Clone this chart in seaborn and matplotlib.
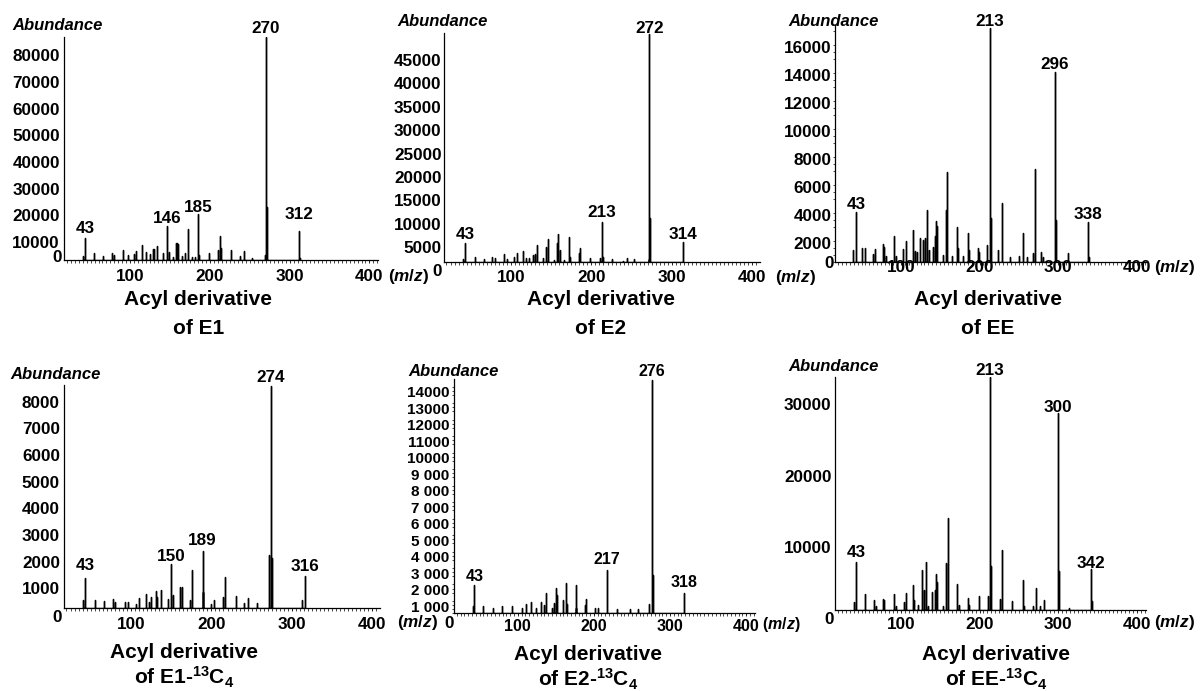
import numpy as np
import pandas as pd
import matplotlib
matplotlib.use("Agg")
import matplotlib.pyplot as plt
import matplotlib.transforms as mtransforms
from matplotlib.ticker import MultipleLocator
import seaborn as sns

sns.set_style("ticks")
plt.rcParams['font.family'] = ['Liberation Sans', 'DejaVu Sans']
plt.rcParams['mathtext.fontset'] = 'custom'
plt.rcParams['mathtext.rm'] = 'Liberation Sans:bold'
plt.rcParams['mathtext.it'] = 'Liberation Sans:italic:bold'
plt.rcParams['mathtext.bf'] = 'Liberation Sans:bold'
plt.rcParams['text.color'] = 'black'
plt.rcParams['axes.labelcolor'] = 'black'
plt.rcParams['xtick.color'] = 'black'
plt.rcParams['ytick.color'] = 'black'
plt.rcParams['axes.edgecolor'] = 'black'

# ---------------- data (m/z, abundance) ----------------
mz_e1 = [40, 43, 54, 66, 77, 80, 91, 97, 104, 107, 115, 120, 124, 128, 130, 133, 141, 146, 148, 153,
         157, 159, 160, 165, 169, 172, 177, 181, 185, 186, 199, 210, 213, 214, 226, 238, 242, 252,
         269, 270, 271, 272, 312, 313]
ab_e1 = [1500, 8100, 2500, 1600, 2700, 1900, 3700, 1900, 2200, 3400, 5600, 3100, 2200, 4000, 4000, 5200,
         2700, 12700, 3100, 1000, 6200, 6500, 6000, 1500, 2700, 11500, 1200, 1000, 17100, 1900, 2500,
         3700, 9100, 4400, 3700, 1500, 3400, 900, 1900, 83500, 20000, 1900, 10700, 900]
lab_e1 = [43, 146, 185, 270, 312]

mz_e2 = [41, 43, 55, 66, 77, 80, 91, 95, 104, 107, 115, 119, 122, 128, 130, 133, 140, 144, 146, 153,
         157, 159, 161, 166, 172, 173, 184, 186, 198, 211, 213, 215, 226, 239, 244, 253, 271, 272, 273, 314]
ab_e2 = [640, 4200, 1070, 640, 1070, 850, 1770, 640, 1070, 2070, 2350, 850, 850, 1500, 1770, 3700, 850,
         3350, 4900, 500, 4050, 6000, 2600, 500, 5500, 1070, 1900, 3000, 850, 850, 8600, 1070, 700, 360,
         920, 640, 640, 48800, 9400, 4270]
lab_e2 = [43, 213, 272, 314]

mz_ee = [39, 43, 51, 55, 65, 67, 77, 79, 81, 91, 94, 103, 107, 115, 118, 121, 124, 128, 131, 133, 136,
         141, 143, 145, 146, 153, 157, 158, 159, 165, 172, 173, 179, 185, 187, 198, 199, 210, 213, 214,
         224, 228, 239, 250, 255, 260, 268, 270, 271, 278, 281, 296, 297, 312, 338, 339]
ab_ee = [880, 3580, 1000, 1000, 590, 925, 1280, 1110, 450, 1875, 450, 925, 1540, 2300, 830, 760, 1710,
         1590, 1710, 3725, 880, 1110, 1875, 2970, 2585, 520, 2180, 3725, 6450, 450, 2490, 1000, 450, 2110,
         880, 1000, 760, 1230, 16660, 3130, 880, 4200, 350, 450, 2065, 350, 640, 6640, 1350, 760, 350,
         13570, 3010, 640, 2850, 400]
lab_ee = [43, 213, 296, 338]

mz_e1c = [40, 43, 55, 67, 78, 80, 93, 97, 106, 110, 119, 122, 125, 131, 133, 137, 146, 150, 152, 161,
          163, 173, 176, 189, 190, 200, 203, 214, 217, 230, 241, 246, 257, 272, 274, 275, 313, 316]
ab_e1c = [310, 1150, 310, 290, 340, 250, 240, 240, 160, 375, 540, 250, 410, 650, 410, 690, 340, 1660,
          500, 810, 790, 310, 1420, 2160, 625, 160, 310, 410, 1160, 460, 200, 375, 190, 2000, 8350, 1870,
          310, 1210]
lab_e1c = [43, 150, 189, 274, 316]

mz_e2c = [41, 43, 55, 67, 79, 92, 105, 111, 118, 124, 131, 134, 137, 145, 147, 150, 151, 160, 163, 165,
          176, 177, 188, 190, 201, 206, 217, 230, 247, 258, 273, 276, 277, 318]
ab_e2c = [425, 1720, 425, 345, 425, 425, 300, 545, 667, 300, 685, 485, 1230, 345, 625, 1520, 1090, 790,
          1840, 590, 1700, 345, 485, 870, 345, 300, 2610, 280, 280, 260, 545, 14150, 2320, 1250]
lab_e2c = [43, 217, 276, 318]

mz_eec = [40, 43, 55, 66, 69, 77, 79, 91, 94, 104, 107, 115, 117, 122, 127, 129, 132, 135, 140, 143,
          145, 146, 154, 157, 158, 160, 172, 174, 185, 187, 199, 211, 213, 214, 226, 228, 241, 255, 256,
          268, 272, 277, 282, 300, 301, 314, 342, 343]
ab_eec = [1115, 6740, 2190, 1350, 500, 1490, 1440, 2280, 500, 1115, 2420, 3530, 1350, 700, 5630, 2830,
          6700, 500, 2510, 2740, 4970, 3900, 500, 3440, 6560, 12790, 3670, 700, 1720, 700, 1910, 1910,
          32500, 6090, 1580, 8370, 1255, 4140, 600, 500, 3115, 500, 1400, 27440, 5400, 300, 5680, 1210]
lab_eec = [43, 213, 300, 342]

yt_e1 = [10000, 20000, 30000, 40000, 50000, 60000, 70000, 80000]
yt_e2 = [5000, 10000, 15000, 20000, 25000, 30000, 35000, 40000, 45000]
yt_ee = [2000, 4000, 6000, 8000, 10000, 12000, 14000, 16000]
yt_e1c = [1000, 2000, 3000, 4000, 5000, 6000, 7000, 8000]
yt_e2c = [1000, 2000, 3000, 4000, 5000, 6000, 7000, 8000, 9000, 10000, 11000, 12000, 13000, 14000]
yt_e2c_labels = ["1 000", "2 000", "3 000", "4 000", "5 000", "6 000", "7 000", "8 000", "9 000",
                 "10000", "11000", "12000", "13000", "14000"]
yt_eec = [10000, 20000, 30000]
xt = [100, 200, 300, 400]

titles2 = ["of E1", "of E2", "of EE",
           "of E1-$^{13}$C$_{4}$", "of E2-$^{13}$C$_{4}$", "of EE-$^{13}$C$_{4}$"]

# ---------------- layout (pixels) ----------------
W, H = 1200, 691
panels = [
    dict(mz=mz_e1, ab=ab_e1, labs=lab_e1, ldy=[10, 7.7, 7, 8.4, 17], yt=yt_e1, ytl=None, ytop=83700,
         box=(64, 378, 36.7, 260), xlim=(16.7, 410.7), yfs=12.3, xfs=12.3, lfs=12.3, ypad=2.9,
         yshift=8.7, xpad=4.8, zero=(57, 258), mzpos=(388, 276), abund=(12, 26),
         t1=(198, 305), t2=(199, 334), ymin=None),
    dict(mz=mz_e2, ab=ab_e2, labs=lab_e2, ldy=[8.3, 10, 5, 7.7], yt=yt_e2, ytl=None, ytop=48900,
         box=(444, 760, 33.3, 262.3), xlim=(16.9, 409.4), yfs=12.3, xfs=12.3, lfs=12.3, ypad=1.7,
         yshift=8.4, xpad=3.8, zero=(437, 271), mzpos=(775, 277), abund=(397, 22),
         t1=(601, 305), t2=(601, 334), ymin=None),
    dict(mz=mz_ee, ab=ab_ee, labs=lab_ee, ldy=[8, 6.7, 7.7, 7.3], yt=yt_ee, ytl=None, ytop=16900,
         box=(835, 1146, 25, 262.3), xlim=(16.3, 411.6), yfs=12.3, xfs=12.3, lfs=12.3, ypad=2.4,
         yshift=9.1, xpad=-3.4, zero=(829, 263), mzpos=(1154, 267), abund=(788, 22),
         t1=(988, 305), t2=(988, 334), ymin=500),
    dict(mz=mz_e1c, ab=ab_e1c, labs=lab_e1c, ldy=[11.7, 8, 10.7, 8.3, 9.3], yt=yt_e1c, ytl=None,
         ytop=8380, box=(64, 380, 385, 608.3), xlim=(16.9, 409.4), yfs=12.3, xfs=12.3, lfs=12.3,
         ypad=2.9, yshift=6.7, xpad=4.3, zero=(57, 617), mzpos=(397, 623), abund=(10, 374),
         t1=(184, 658), t2=(184, 685), ymin=None),
    dict(mz=mz_e2c, ab=ab_e2c, labs=lab_e2c, ldy=[8.3, 10.7, 8.7, 10.3], yt=yt_e2c, ytl=yt_e2c_labels,
         ytop=14200, box=(454, 755, 379.3, 613.3), xlim=(16.3, 411.6), yfs=11, xfs=11.5, lfs=11.5,
         ypad=3.4, yshift=9.2, xpad=1.9, zero=(449, 623), mzpos=(762, 625), abund=(408, 372),
         t1=(588, 660), t2=(588, 686), ymin=250),
    dict(mz=mz_eec, ab=ab_eec, labs=lab_eec, ldy=[9, 6.7, 6, 6], yt=yt_eec, ytl=None, ytop=32560,
         box=(835, 1146, 376.7, 610), xlim=(16.3, 411.6), yfs=12.3, xfs=12.3, lfs=12.3, ypad=2.4,
         yshift=9.0, xpad=3.0, zero=(829, 620), mzpos=(1154, 623), abund=(788, 367),
         t1=(996, 660), t2=(996, 687), ymin=None),
]

fig = plt.figure(figsize=(12, 6.91), dpi=100)
px_pt = 72.0 / 100.0  # points per pixel


def fx(p):
    return p / W


def fy(p):
    return 1 - p / H


for i, P in enumerate(panels):
    l, r, t, b = P['box']
    ax = fig.add_axes([fx(l), fy(b), (r - l) / W, (b - t) / H])
    mz = np.asarray(P['mz'], dtype=float)
    ab = np.asarray(P['ab'], dtype=float)
    z = np.zeros_like(ab)
    df = pd.DataFrame({'mz': np.repeat(mz, 3),
                       'abundance': np.column_stack([z, ab, z]).ravel()})
    sns.lineplot(data=df, x='mz', y='abundance', sort=False, estimator=None,
                 color='black', linewidth=1.0, ax=ax)
    ax.set_xlim(*P['xlim'])
    ax.set_ylim(0, P['ytop'])
    ax.set_xlabel('')
    ax.set_ylabel('')
    for s in ('top', 'right'):
        ax.spines[s].set_visible(False)
    for s in ('left', 'bottom'):
        ax.spines[s].set_linewidth(0.9)
        ax.spines[s].set_color('black')
    ax.set_facecolor('white')

    # x axis
    ax.set_xticks(xt)
    ax.set_xticklabels([str(v) for v in xt], fontsize=P['xfs'], fontweight='bold', color='black')
    ax.xaxis.set_minor_locator(MultipleLocator(5))
    ax.tick_params(axis='x', which='major', length=2, width=0.6, pad=P['xpad'],
                   direction='out', colors='black')
    ax.tick_params(axis='x', which='minor', length=1.8, width=0.5, direction='out', color='black')

    # y axis
    ax.set_yticks(P['yt'])
    labels = P['ytl'] if P['ytl'] is not None else [str(v) for v in P['yt']]
    ax.set_yticklabels(labels, fontsize=P['yfs'], fontweight='bold', color='black')
    ax.tick_params(axis='y', which='major', length=0, pad=P['ypad'], colors='black')
    if P['ymin'] is not None:
        ax.yaxis.set_minor_locator(MultipleLocator(P['ymin']))
        ax.tick_params(axis='y', which='minor', length=1.5, width=0.5, direction='out', color='black')
    off = mtransforms.ScaledTranslation(0, -P['yshift'] / 100.0, fig.dpi_scale_trans)
    for lab in ax.get_yticklabels():
        lab.set_transform(lab.get_transform() + off)

    # peak labels
    for m, dy in zip(P['labs'], P['ldy']):
        v = ab[list(mz).index(m)]
        ax.annotate(str(m), xy=(m, v), xytext=(0, dy * px_pt), textcoords='offset points',
                    ha='center', va='center', fontsize=P['lfs'], fontweight='bold',
                    color='black', annotation_clip=False)

    # text around the axes
    fig.text(fx(P['zero'][0]), fy(P['zero'][1]), '0', ha='center', va='center',
             fontsize=12.3, fontweight='bold', color='black')
    fig.text(fx(P['mzpos'][0]), fy(P['mzpos'][1]), '($\\mathit{m/z}$)', ha='left', va='center',
             fontsize=P['xfs'], fontweight='bold', color='black')
    fig.text(fx(P['abund'][0]), fy(P['abund'][1]), 'Abundance', ha='left', va='center',
             fontsize=12, fontweight='bold', fontstyle='italic', color='black')
    fig.text(fx(P['t1'][0]), fy(P['t1'][1]), 'Acyl derivative', ha='center', va='baseline',
             fontsize=15, fontweight='bold', color='black')
    fig.text(fx(P['t2'][0]), fy(P['t2'][1]), titles2[i], ha='center', va='baseline',
             fontsize=15, fontweight='bold', color='black')

fig.savefig('out.png', dpi=100, facecolor='white')
